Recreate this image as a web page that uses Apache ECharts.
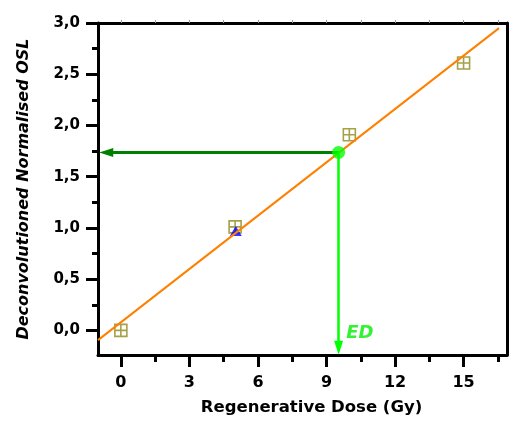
<!DOCTYPE html>
<html>
<head>
    <meta charset="utf-8">
    <title>Regenerative dose</title>
    <script type="text/javascript" src="https://cdn.jsdelivr.net/npm/echarts@6/dist/echarts.min.js"></script>
</head>
<body style="margin:0;background:#fff;">
    <div id="main" style="width:509px;height:421px;"></div>
    <script type="text/javascript">
        // measured points (Gy, normalised OSL)
        var doseX = [0, 5, 10, 15];
        var oslY = [0.0, 1.01, 1.91, 2.61];
        // recycled point
        var recycleX = [5.03];
        var recycleY = [0.97];
        // linear fit, two ends
        var fitX = [-1, 16.55];
        var fitY = [-0.095, 2.95];
        // equivalent dose
        var edX = [9.53];
        var edY = [1.737];

        var xMajor = [0, 3, 6, 9, 12, 15];
        var xMinor = [1.5, 4.5, 7.5, 10.5, 13.5, 16.5];
        var xTop = [0, 1.5, 3, 4.5, 6, 7.5, 9, 10.5, 12, 13.5, 15, 16.5];
        var yMajor = [0, 0.5, 1, 1.5, 2, 2.5, 3];
        var yMinor = [0.25, 0.75, 1.25, 1.75, 2.25, 2.75];

        var xMin = -1, xMax = 16.9, yMin = -0.24, yMax = 3;

        var font = 'DejaVu Sans';
        var pts = [];
        for (var i = 0; i < doseX.length; i++) pts.push([doseX[i], oslY[i]]);
        var fit = [];
        for (var i = 0; i < fitX.length; i++) fit.push([fitX[i], fitY[i]]);

        var myChart = echarts.init(document.getElementById('main'));
        var option = {
            animation: false,
            grid: { left: 98, right: 2, top: 23, bottom: 66 },
            xAxis: [
                {
                    type: 'value', min: xMin, max: xMax, position: 'bottom',
                    splitLine: { show: false },
                    axisLine: { onZero: false, lineStyle: { color: '#000', width: 3 } },
                    axisTick: { customValues: xMajor, length: 12, lineStyle: { color: '#000', width: 3 } },
                    axisLabel: { customValues: xMajor, margin: 20, color: '#000', fontFamily: font, fontWeight: 'bold', fontSize: 16 },
                    name: 'Regenerative Dose (Gy)', nameLocation: 'middle', nameGap: 44,
                    nameTextStyle: { color: '#000', fontFamily: font, fontWeight: 'bold', fontSize: 16.5, padding: [0, 0, 0, 18] }
                },
                {
                    type: 'value', min: xMin, max: xMax, position: 'bottom',
                    splitLine: { show: false }, axisLine: { show: false, onZero: false }, axisLabel: { show: false },
                    axisTick: { customValues: xMinor, length: 7, lineStyle: { color: '#000', width: 3 } }
                },
                {
                    type: 'value', min: xMin, max: xMax, position: 'top',
                    splitLine: { show: false }, axisLabel: { show: false },
                    axisLine: { onZero: false, lineStyle: { color: '#000', width: 3 } },
                    axisTick: { customValues: xTop, length: 3, lineStyle: { color: '#999', width: 1 } }
                }
            ],
            yAxis: [
                {
                    type: 'value', min: yMin, max: yMax, position: 'left',
                    splitLine: { show: false },
                    axisLine: { onZero: false, lineStyle: { color: '#000', width: 3 } },
                    axisTick: { customValues: yMajor, length: 12, lineStyle: { color: '#000', width: 3 } },
                    axisLabel: {
                        customValues: yMajor, margin: 18, color: '#000', fontFamily: font, fontWeight: 'bold', fontSize: 15,
                        formatter: function (v) { return v.toFixed(1).replace('.', ','); }
                    },
                    name: 'Deconvolutioned Normalised OSL', nameLocation: 'middle', nameGap: 66,
                    nameTextStyle: { color: '#000', fontFamily: font, fontWeight: 'bold', fontStyle: 'italic', fontSize: 16 }
                },
                {
                    type: 'value', min: yMin, max: yMax, position: 'left',
                    splitLine: { show: false }, axisLine: { show: false, onZero: false }, axisLabel: { show: false },
                    axisTick: { customValues: yMinor, length: 6, lineStyle: { color: '#000', width: 3 } }
                },
                {
                    type: 'value', min: yMin, max: yMax, position: 'right',
                    splitLine: { show: false }, axisLabel: { show: false }, axisTick: { show: false },
                    axisLine: { onZero: false, lineStyle: { color: '#000', width: 3 } }
                }
            ],
            series: [
                {
                    type: 'line', data: fit, symbol: 'none', silent: true,
                    lineStyle: { color: '#ff8000', width: 2 }
                },
                {
                    type: 'scatter', data: pts,
                    symbol: 'path://M0,0L10,0L10,10L0,10Z M5,0L5,10 M0,5L10,5',
                    symbolSize: 12,
                    itemStyle: { color: 'rgba(0,0,0,0)', borderColor: '#8f8a1c', borderWidth: 1.6 }
                },
                {
                    type: 'scatter', data: [[recycleX[0], recycleY[0]]],
                    symbol: 'triangle', symbolSize: [12, 10],
                    itemStyle: { color: '#0000ff' }
                },
                {
                    type: 'scatter', data: [[edX[0], edY[0]]],
                    symbolSize: 13, z: 5,
                    itemStyle: { color: '#00ff00' },
                    markLine: {
                        silent: true, animation: false,
                        symbol: ['none', 'triangle'], symbolSize: [9, 14],
                        label: { show: false },
                        data: [
                            [{ coord: [edX[0], edY[0]], lineStyle: { color: '#008000', width: 3, type: 'solid' } },
                             { coord: [xMin + 0.36, edY[0]] }],
                            [{ coord: [edX[0], edY[0]], lineStyle: { color: '#00ff00', width: 2.5, type: 'solid' } },
                             { coord: [edX[0], yMin + 0.07] }]
                        ]
                    }
                },
                {
                    type: 'scatter', data: [[edX[0] + 0.33, -0.03]], symbolSize: 0, silent: true,
                    label: {
                        show: true, position: 'right', distance: 0, formatter: 'ED',
                        color: '#00ee00', fontFamily: font, fontWeight: 'bold', fontStyle: 'italic', fontSize: 18
                    }
                }
            ]
        };
        myChart.setOption(option);
    </script>
</body>
</html>
